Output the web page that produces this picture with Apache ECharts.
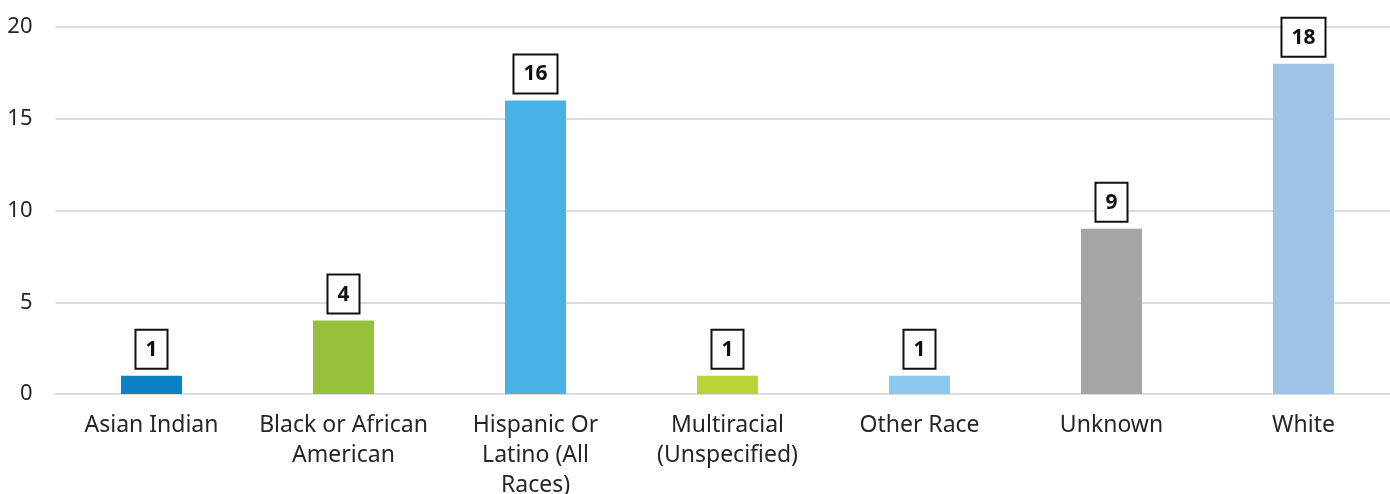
<!DOCTYPE html>
<html>
<head>
<meta charset="utf-8">
<script src="https://cdn.jsdelivr.net/npm/echarts@6/dist/echarts.min.js"></script>
<style>
  html, body { margin: 0; padding: 0; background: #fff; }
  #chart { width: 1390px; height: 494px; }
</style>
</head>
<body>
<div id="chart"></div>
<script>
// Race / ethnicity counts
const categories = [
  'Asian Indian',
  'Black or African\nAmerican',
  'Hispanic Or\nLatino (All\nRaces)',
  'Multiracial\n(Unspecified)',
  'Other Race',
  'Unknown',
  'White'
];
const counts = [1, 4, 16, 1, 1, 9, 18];
const barColors = ['#0b80c4', '#97c13b', '#48b1e6', '#b8d335', '#88c9ed', '#a5a5a5', '#9dc3e6'];
const yTicks = [0, 5, 10, 15, 20];

const fontFamily = "'Noto Sans', 'DejaVu Sans', sans-serif";

const chart = echarts.init(document.getElementById('chart'), null, { renderer: 'canvas' });
chart.setOption({
  animation: false,
  backgroundColor: '#ffffff',
  grid: {
    left: 55.5, top: 27, width: 1344, bottom: 100,
    containLabel: false,
    outerBoundsMode: 'none'
  },
  xAxis: {
    type: 'category',
    data: categories,
    axisLine: { show: true, lineStyle: { color: '#dcdcdc', width: 2 } },
    axisTick: { show: false },
    axisLabel: {
      interval: 0,
      color: '#262626',
      fontFamily: fontFamily,
      fontSize: 23,
      lineHeight: 30,
      margin: 16
    }
  },
  yAxis: {
    type: 'value',
    min: yTicks[0],
    max: yTicks[yTicks.length - 1],
    interval: 5,
    axisLine: { show: false },
    axisTick: { show: false },
    splitLine: { lineStyle: { color: '#dcdcdc', width: 2 } },
    axisLabel: {
      color: '#262626',
      fontFamily: fontFamily,
      fontSize: 22,
      margin: 23
    }
  },
  series: [{
    type: 'bar',
    barWidth: 61,
    data: counts.map((v, i) => ({ value: v, itemStyle: { color: barColors[i] } })),
    label: {
      show: true,
      position: 'top',
      distance: 8,
      color: '#111111',
      fontFamily: fontFamily,
      fontWeight: 'bold',
      fontSize: 21,
      lineHeight: 22,
      backgroundColor: '#ffffff',
      borderColor: '#111111',
      borderWidth: 2,
      padding: [8, 9, 7, 9]
    }
  }]
});
</script>
</body>
</html>
